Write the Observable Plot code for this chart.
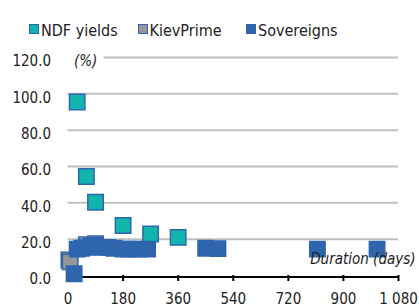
<!DOCTYPE html>
<html><head><meta charset="utf-8">
<script src="https://cdn.jsdelivr.net/npm/d3@7"></script>
<script src="https://cdn.jsdelivr.net/npm/@observablehq/plot@0.6"></script>
<style>
body{margin:0;background:#fff;}
#wrap{position:relative;width:419px;height:304px;overflow:hidden;font-family:"DejaVu Sans Condensed","DejaVu Sans",sans-serif;font-stretch:condensed;}
#legend{position:absolute;left:29px;top:21px;display:flex;font-size:16px;color:#222;}
.item{display:flex;align-items:center;width:108.5px;white-space:nowrap;}
.sw{width:8px;height:8px;border:1.5px solid #2E66AE;margin-right:2px;margin-top:-3px;flex:none;}
svg text{font-stretch:condensed;}
</style></head><body>
<div id="wrap"><div id="legend"></div></div>
<script>
const seriesNames = ["NDF yields", "KievPrime", "Sovereigns"];
const seriesFill = ["#12B5AE", "#979797", "#2E65AD"];
const ndfDays = [30, 60, 90, 180, 270, 360];
const ndfYield = [95.5, 54.5, 40.3, 27.5, 22.8, 21];
const kievDays = [3, 7, 60, 90];
const kievYield = [8.5, 7.5, 17, 17.5];
const sovDays = [20, 30, 45, 60, 75, 90, 110, 130, 150, 180, 200, 230, 260, 450, 490, 815, 1010];
const sovYield = [1, 14.5, 15, 15.5, 16, 16.5, 15.5, 15.5, 15, 14.5, 14.5, 14.5, 14.5, 15, 14.8, 14.5, 14.5];
const xTicks = [0, 180, 360, 540, 720, 900, 1080];
const yTicks = [0, 20, 40, 60, 80, 100, 120];

const ndf = ndfDays.map((d,i)=>({d, y: ndfYield[i]}));
const kiev = kievDays.map((d,i)=>({d, y: kievYield[i]}));
const sov = sovDays.map((d,i)=>({d, y: sovYield[i]}));

const leg = document.getElementById("legend");
seriesNames.forEach((n,i)=>{
  const it=document.createElement("div");it.className="item";
  const sw=document.createElement("div");sw.className="sw";sw.style.background=seriesFill[i];
  const t=document.createElement("span");t.textContent=n;
  it.appendChild(sw);it.appendChild(t);leg.appendChild(it);
});

const fmt = d => d >= 1000 ? d3.format(",")(d).replace(",", " ") : String(d);
const font = '"DejaVu Sans Condensed","DejaVu Sans",sans-serif';
const chart = Plot.plot({
  width: 419, height: 304,
  marginLeft: 67.5, marginRight: 21, marginTop: 57, marginBottom: 29,
  style: {fontFamily: font, fontSize: "15px", color: "#222", background: "transparent"},
  x: {type: "linear", domain: [0, 1080], axis: null},
  y: {type: "linear", domain: [0, 120], axis: null},
  marks: [
    Plot.ruleY(yTicks.filter(v => v > 0 && v < 120), {stroke: "#C0C0C0", strokeWidth: 2}),
    Plot.ruleY([120], {x1: 118, x2: 1080, stroke: "#C0C0C0", strokeWidth: 2}),
    Plot.text(yTicks, {x: 0, y: d => d, text: d => d.toFixed(1), textAnchor: "end", dx: -17, dy: 4, fill: "#222"}),
    Plot.text(["(%)"], {x: 0, y: 120, text: d => d, textAnchor: "start", dx: 6, dy: 4, fontStyle: "italic", fill: "#222"}),
    Plot.ruleY([0], {stroke: "#000", strokeWidth: 2, dy: 1.5}),
    Plot.ruleX(xTicks, {x: d => d, y1: 0, y2: 0, stroke: "#000", strokeWidth: 2, insetBottom: -6}),
    Plot.text(xTicks, {x: d => d, y: 0, text: fmt, dy: 24, fill: "#222"}),
    Plot.dot(ndf, {x: "d", y: "y", symbol: "square", r: 8.7, fill: seriesFill[0], stroke: "#2E66AE", strokeWidth: 1.5}),
    Plot.dot(kiev, {x: "d", y: "y", symbol: "square", r: 8.7, fill: seriesFill[1], stroke: "#2E66AE", strokeWidth: 1.5}),
    Plot.dot(sov, {x: "d", y: "y", symbol: "square", r: 8.7, fill: seriesFill[2], stroke: "#2E66AE", strokeWidth: 1.5}),
    Plot.text(["Duration (days)"], {x: 1080, y: 0, text: d => d, textAnchor: "end", dx: 17, dy: -16, fontStyle: "italic", fill: "#222"})
  ]
});
document.getElementById("wrap").appendChild(chart);
chart.style.position="absolute";chart.style.left="0";chart.style.top="0";
</script></body></html>
